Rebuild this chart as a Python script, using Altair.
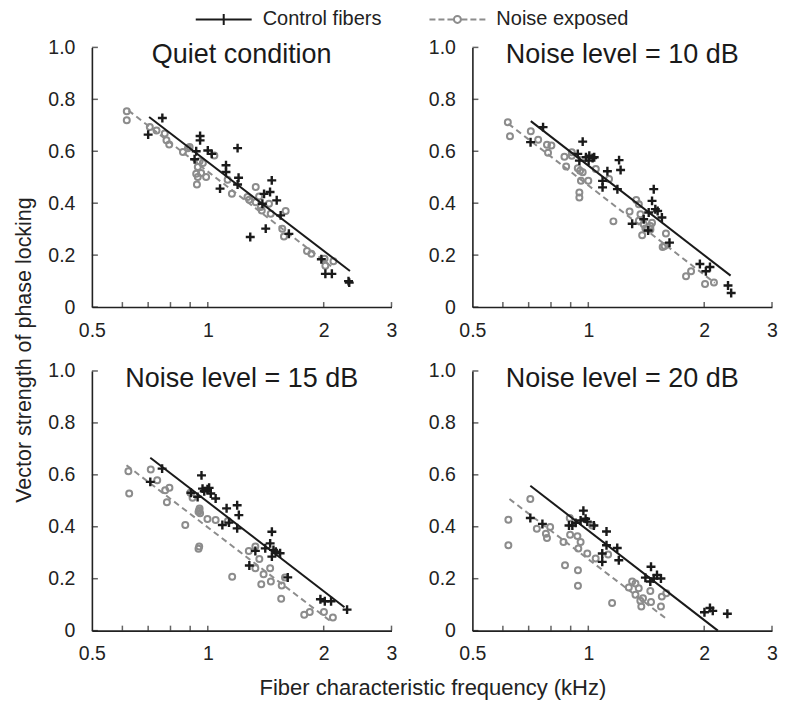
import altair as alt
import pandas as pd

FONT = "Liberation Sans"
CTRL_COLOR = "#1a1a1a"
NOISE_COLOR = "#8c8c8c"

SERIES = ["Control fibers", "Noise exposed"]
PANEL_TITLES = ["Quiet condition", "Noise level = 10 dB", "Noise level = 15 dB", "Noise level = 20 dB"]
PANEL_ROW = ["a", "a", "b", "b"]
PANEL_COL = ["a", "b", "a", "b"]
Y_TITLE = "Vector strength of phase locking"
X_TITLE = "Fiber characteristic frequency (kHz)"

X_TICK_LABELS = [0.5, 1, 2, 3]
X_TICKS = [0.6, 0.7, 0.8, 0.9, 1, 2, 3]
Y_TICKS = [0, 0.2, 0.4, 0.6, 0.8, 1.0]

# ---- Quiet condition ----
ctrl_f_q = [0.700, 0.762, 0.933, 0.955, 0.955, 0.924, 1.000, 1.024, 1.115, 1.115, 1.076, 1.195, 1.202, 1.195,
            1.289, 1.414, 1.466, 1.451, 1.400, 1.386, 1.510, 1.546, 1.624, 1.972, 2.020, 2.100, 2.330, 2.320]
ctrl_v_q = [0.664, 0.728, 0.600, 0.659, 0.642, 0.569, 0.603, 0.590, 0.546, 0.520, 0.456, 0.612, 0.498, 0.472,
            0.270, 0.302, 0.488, 0.443, 0.436, 0.398, 0.411, 0.353, 0.282, 0.184, 0.128, 0.128, 0.094, 0.100]
noise_f_q = [0.616, 0.616, 0.707, 0.736, 0.773, 0.781, 0.794, 0.862, 0.888, 0.897, 0.952, 0.942, 0.971, 0.933,
             0.961, 0.942, 0.990, 0.937, 1.040, 1.126, 1.155, 1.268, 1.281, 1.332, 1.332, 1.359, 1.373, 1.381,
             1.442, 1.457, 1.593, 1.561, 1.577, 1.810, 1.858, 2.020, 2.120, 2.010]
noise_v_q = [0.754, 0.719, 0.693, 0.680, 0.668, 0.642, 0.626, 0.597, 0.612, 0.616, 0.562, 0.539, 0.555, 0.513,
             0.516, 0.501, 0.501, 0.472, 0.584, 0.490, 0.436, 0.424, 0.413, 0.462, 0.404, 0.426, 0.385, 0.372,
             0.398, 0.359, 0.370, 0.302, 0.272, 0.216, 0.205, 0.159, 0.176, 0.186]

# ---- Noise level = 10 dB ----
ctrl_f_10 = [0.708, 0.763, 0.967, 0.939, 0.948, 0.986, 1.006, 1.026, 1.036, 1.002, 1.121, 1.089, 1.089, 1.202,
             1.213, 1.190, 1.300, 1.393, 1.435, 1.479, 1.464, 1.493, 1.514, 1.553, 1.430, 1.625, 1.949, 2.020,
             2.070, 2.306, 2.350]
ctrl_v_10 = [0.635, 0.693, 0.637, 0.590, 0.564, 0.577, 0.583, 0.574, 0.577, 0.564, 0.523, 0.486, 0.461, 0.566,
             0.528, 0.454, 0.321, 0.338, 0.364, 0.454, 0.409, 0.377, 0.370, 0.345, 0.295, 0.248, 0.166, 0.138,
             0.154, 0.083, 0.054]
noise_f_10 = [0.618, 0.626, 0.709, 0.741, 0.781, 0.802, 0.786, 0.867, 0.876, 0.906, 0.906, 0.939, 0.952, 0.967,
              0.957, 1.000, 0.948, 0.948, 1.046, 1.132, 1.162, 1.280, 1.332, 1.353, 1.366, 1.353, 1.393, 1.407,
              1.380, 1.464, 1.450, 1.450, 1.591, 1.560, 1.578, 1.794, 1.849, 2.010, 2.120]
noise_v_10 = [0.712, 0.658, 0.677, 0.644, 0.625, 0.622, 0.594, 0.579, 0.541, 0.596, 0.583, 0.535, 0.525, 0.519,
              0.486, 0.486, 0.441, 0.422, 0.532, 0.493, 0.330, 0.368, 0.412, 0.396, 0.357, 0.332, 0.319, 0.303,
              0.277, 0.325, 0.312, 0.299, 0.283, 0.231, 0.235, 0.119, 0.138, 0.089, 0.095]

# ---- Noise level = 15 dB ----
ctrl_f_15 = [0.709, 0.761, 0.904, 0.941, 0.963, 0.969, 0.979, 0.998, 1.008, 1.018, 1.048, 1.091, 1.119, 1.135,
             1.192, 1.204, 1.192, 1.282, 1.329, 1.410, 1.467, 1.452, 1.481, 1.502, 1.541, 1.467, 1.613, 1.961,
             2.013, 2.090, 2.300]
ctrl_v_15 = [0.573, 0.624, 0.531, 0.515, 0.598, 0.547, 0.537, 0.545, 0.550, 0.528, 0.509, 0.407, 0.471, 0.416,
             0.483, 0.445, 0.394, 0.251, 0.307, 0.317, 0.381, 0.336, 0.311, 0.304, 0.298, 0.285, 0.205, 0.121,
             0.113, 0.113, 0.081]
noise_f_15 = [0.622, 0.625, 0.711, 0.739, 0.775, 0.795, 0.783, 0.874, 0.913, 0.901, 0.950, 0.955, 0.946, 0.952,
              0.950, 0.946, 0.998, 1.048, 1.128, 1.157, 1.278, 1.329, 1.361, 1.329, 1.396, 1.377, 1.452, 1.458,
              1.556, 1.587, 1.551, 1.780, 1.840, 2.003, 2.113]
noise_v_15 = [0.614, 0.528, 0.621, 0.579, 0.541, 0.550, 0.494, 0.407, 0.512, 0.531, 0.464, 0.452, 0.458, 0.470,
              0.324, 0.315, 0.430, 0.426, 0.422, 0.208, 0.307, 0.324, 0.276, 0.240, 0.217, 0.179, 0.240, 0.189,
              0.174, 0.205, 0.123, 0.061, 0.072, 0.072, 0.051]

# ---- Noise level = 20 dB ----
ctrl_f_20 = [0.707, 0.760, 0.891, 0.909, 0.927, 0.955, 0.971, 0.984, 0.994, 1.034, 1.115, 1.115, 1.087, 1.087,
             1.189, 1.200, 1.407, 1.455, 1.479, 1.508, 1.544, 1.449, 2.003, 2.070, 2.105, 2.297]
ctrl_v_20 = [0.434, 0.411, 0.405, 0.405, 0.415, 0.424, 0.462, 0.431, 0.420, 0.405, 0.382, 0.329, 0.297, 0.265,
             0.318, 0.271, 0.204, 0.246, 0.201, 0.214, 0.201, 0.189, 0.071, 0.087, 0.076, 0.065]
noise_f_20 = [0.620, 0.620, 0.707, 0.735, 0.776, 0.781, 0.796, 0.862, 0.870, 0.895, 0.897, 0.937, 0.942, 0.940,
              0.940, 0.955, 0.994, 1.024, 1.045, 1.126, 1.153, 1.274, 1.300, 1.326, 1.352, 1.365, 1.373, 1.387,
              1.449, 1.455, 1.544, 1.552, 1.594, 1.326]
noise_v_20 = [0.427, 0.329, 0.507, 0.392, 0.373, 0.357, 0.399, 0.341, 0.252, 0.434, 0.369, 0.364, 0.316, 0.233,
              0.173, 0.341, 0.297, 0.405, 0.278, 0.293, 0.106, 0.166, 0.189, 0.138, 0.163, 0.115, 0.093, 0.125,
              0.153, 0.110, 0.093, 0.131, 0.144, 0.182]

# ---- Fitted regression lines (end points) ----
fit_ctrl_f = [[0.704, 2.34], [0.709, 2.342], [0.709, 2.265], [0.707, 2.17]]
fit_ctrl_v = [[0.732, 0.139], [0.716, 0.121], [0.666, 0.090], [0.558, 0.000]]
fit_noise_f = [[0.622, 2.12], [0.620, 2.13], [0.615, 2.09], [0.624, 1.594]]
fit_noise_v = [[0.757, 0.150], [0.706, 0.093], [0.637, 0.035], [0.507, 0.046]]

ctrl_f = [ctrl_f_q, ctrl_f_10, ctrl_f_15, ctrl_f_20]
ctrl_v = [ctrl_v_q, ctrl_v_10, ctrl_v_15, ctrl_v_20]
noise_f = [noise_f_q, noise_f_10, noise_f_15, noise_f_20]
noise_v = [noise_v_q, noise_v_10, noise_v_15, noise_v_20]

rows = []
for i in range(4):
    base = {"row": PANEL_ROW[i], "col": PANEL_COL[i], "label": PANEL_TITLES[i]}
    for f, v in zip(ctrl_f[i], ctrl_v[i]):
        rows.append({**base, "kind": "ctrl", "series": SERIES[0], "f": f, "v": v})
    for f, v in zip(noise_f[i], noise_v[i]):
        rows.append({**base, "kind": "noise", "series": SERIES[1], "f": f, "v": v})
    for f, v in zip(fit_ctrl_f[i], fit_ctrl_v[i]):
        rows.append({**base, "kind": "fit_ctrl", "series": SERIES[0], "f": f, "v": v})
    for f, v in zip(fit_noise_f[i], fit_noise_v[i]):
        rows.append({**base, "kind": "fit_noise", "series": SERIES[1], "f": f, "v": v})
    rows.append({**base, "kind": "title", "series": "", "f": 1.0, "v": 1.0})
    for t in X_TICKS:
        rows.append({**base, "kind": "xtick", "series": "", "f": t, "v": 0.0})
    for t in Y_TICKS:
        rows.append({**base, "kind": "ytick", "series": "", "f": 0.5, "v": t})
# dummy entries only used to build the legend (clipped, out of y domain)
for s in SERIES:
    rows.append({"row": "a", "col": "a", "label": "", "kind": "legend", "series": s, "f": 1.0, "v": -1.0})

df = pd.DataFrame(rows)

xscale = alt.Scale(type="log", domain=[0.5, 3], nice=False)
yscale = alt.Scale(domain=[0, 1], nice=False)
xaxis = alt.Axis(values=X_TICK_LABELS, labelExpr="format(datum.value, '~g')", title=None, grid=False,
                 tickSize=0, labelFlush=False, labelPadding=14, labelFontSize=19.5, labelFont=FONT,
                 labelColor="#222", domainColor="#222", domainWidth=1.6)
yaxis = alt.Axis(values=Y_TICKS, labelExpr="datum.value == 0 ? '0' : format(datum.value, '.1f')", title=None,
                 grid=False, tickSize=0, labelPadding=17, labelFontSize=19.5, labelFont=FONT,
                 labelColor="#222", domainColor="#222", domainWidth=1.6)


def X(field="f:Q"):
    return alt.X(field, scale=xscale, axis=xaxis)


def Y(field="v:Q"):
    return alt.Y(field, scale=yscale, axis=yaxis)


base = alt.Chart()

xticks = base.transform_filter(alt.datum.kind == "xtick").mark_tick(
    orient="vertical", size=5, thickness=1.5, yOffset=-2.5, color="#222").encode(x=X(), y=Y())
yticks = base.transform_filter(alt.datum.kind == "ytick").mark_tick(
    orient="horizontal", size=6, thickness=1.5, xOffset=3, color="#222").encode(x=X(), y=Y())

fit_noise = base.transform_filter(alt.datum.kind == "fit_noise").mark_line(
    color=NOISE_COLOR, strokeWidth=2, strokeDash=[6, 4]).encode(x=X(), y=Y())
noise_pts = base.transform_filter(alt.datum.kind == "noise").mark_point(
    shape="circle", filled=False, color=NOISE_COLOR, strokeWidth=2, size=36, opacity=1).encode(x=X(), y=Y())
fit_ctrl = base.transform_filter(alt.datum.kind == "fit_ctrl").mark_line(
    color=CTRL_COLOR, strokeWidth=2).encode(x=X(), y=Y())
ctrl_pts = base.transform_filter(alt.datum.kind == "ctrl").mark_point(
    shape="M-1,0H1M0,-1V1", filled=False, color=CTRL_COLOR, strokeWidth=2.4, size=80, opacity=1).encode(x=X(), y=Y())

titles = base.transform_filter(alt.datum.kind == "title").mark_text(
    fontSize=27, font=FONT, color="#1a1a1a", baseline="top", align="center").encode(
    x=alt.value(150), y=alt.value(-5), text="label:N")

legend_paths = [
    "M-5.6,0H5.6M0,-1.1V1.1",
    "M-5.6,0H-4.4M-3.8,0H-2.6M-2.0,0H-0.8M0.8,0H2.0M2.6,0H3.8M4.4,0H5.6"
    "M0.7,0A0.7,0.7,0,1,1,-0.7,0A0.7,0.7,0,1,1,0.7,0",
]
leg = alt.Legend(title=None, orient="none", legendX=122, legendY=-38, direction="horizontal", symbolSize=100,
                 labelFontSize=20, labelFont=FONT, labelColor="#222", labelOffset=29, columnPadding=44,
                 symbolStrokeWidth=2, symbolOpacity=1)
legend_layer = base.transform_filter(alt.datum.kind == "legend").mark_point(
    filled=False, clip=True, size=100, strokeWidth=2).encode(
    x=X(), y=Y(),
    color=alt.Color("series:N", scale=alt.Scale(domain=SERIES, range=[CTRL_COLOR, NOISE_COLOR]), legend=leg),
    shape=alt.Shape("series:N", scale=alt.Scale(domain=SERIES, range=legend_paths), legend=leg),
)

layered = alt.layer(xticks, yticks, fit_noise, noise_pts, fit_ctrl, ctrl_pts, titles, legend_layer).properties(
    width=300, height=260)

chart = layered.facet(
    data=df,
    row=alt.Row("row:N", header=alt.Header(labels=False, labelPadding=0, title=Y_TITLE,
                                           titleOrient="left", titleFontSize=21.5, titleFont=FONT,
                                           titleFontWeight="normal", titleColor="#222", titlePadding=1)),
    column=alt.Column("col:N", header=alt.Header(labels=False, title=None)),
    spacing={"row": 21, "column": 30},
).properties(
    title=alt.TitleParams(X_TITLE, orient="bottom", anchor="middle", dx=37, offset=15, fontSize=22,
                          font=FONT, fontWeight="normal", color="#222"),
    padding={"left": 6, "top": 1, "right": 0, "bottom": 0},
).resolve_axis(x="independent", y="independent").configure_view(stroke=None)

chart.save("out.html", embed_options={"renderer": "svg", "actions": False})
